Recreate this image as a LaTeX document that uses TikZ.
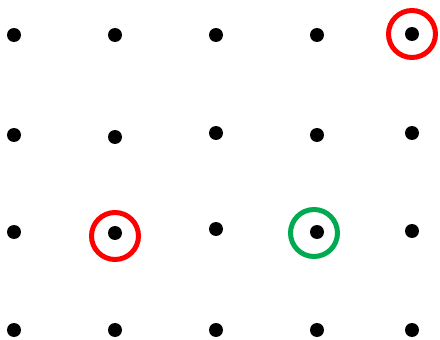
\documentclass[tikz,border=0pt]{standalone}
\begin{document}
\begin{tikzpicture}[x=1pt,y=-1pt,
  dot/.style={circle,fill=black,inner sep=0pt,minimum size=14pt},
  ring/.style={circle,draw=#1,line width=5pt,inner sep=0pt,minimum size=47pt},
]
\definecolor{ringred}{RGB}{255,0,0}
\definecolor{ringgreen}{RGB}{0,170,80}
\useasboundingbox (0,0) rectangle (440,340);
% row 1
\node[dot] (d11) at (14,35) {};
\node[dot] (d12) at (115,35) {};
\node[dot] (d13) at (216,35) {};
\node[dot] (d14) at (317,35) {};
\node[dot] (d15) at (412,34) {};
% row 2
\node[dot] (d21) at (14,135) {};
\node[dot] (d22) at (115,137) {};
\node[dot] (d23) at (216,133) {};
\node[dot] (d24) at (317,135) {};
\node[dot] (d25) at (412,133) {};
% row 3
\node[dot] (d31) at (14,232) {};
\node[dot] (d32) at (115,233) {};
\node[dot] (d33) at (216,229) {};
\node[dot] (d34) at (317,232) {};
\node[dot] (d35) at (412,231) {};
% row 4
\node[dot] (d41) at (14,330) {};
\node[dot] (d42) at (115,330) {};
\node[dot] (d43) at (216,330) {};
\node[dot] (d44) at (317,330) {};
\node[dot] (d45) at (412,330) {};
% rings
\node[ring=ringred] (r1) at (412,34) {};
\node[ring=ringred] (r2) at (115,236) {};
\node[ring=ringgreen] (r3) at (314,233) {};
\end{tikzpicture}
\end{document}
